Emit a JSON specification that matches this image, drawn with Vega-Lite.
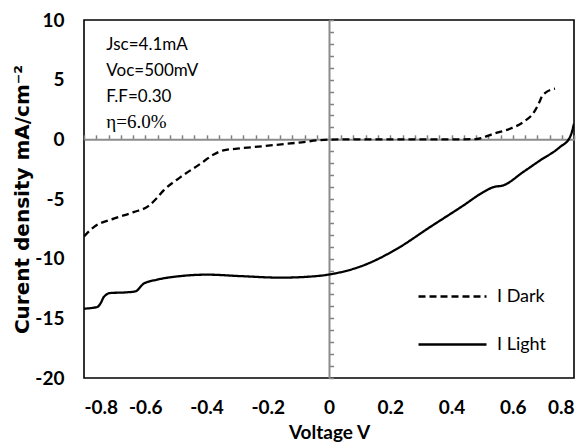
{
  "$schema": "https://vega.github.io/schema/vega-lite/v6.json",
  "width": 490,
  "height": 358,
  "autosize": "none",
  "padding": {"left": 84, "top": 20, "right": 13, "bottom": 70},
  "background": "white",
  "config": {
    "view": {"stroke": "#000", "strokeWidth": 1.6},
    "font": "Lato"
  },
  "datasets": {
    "curves": [
      {"series": "I Dark", "v": -0.8, "j": -8.13},
      {"series": "I Dark", "v": -0.768, "j": -7.35},
      {"series": "I Dark", "v": -0.703, "j": -6.65},
      {"series": "I Dark", "v": -0.638, "j": -6.1},
      {"series": "I Dark", "v": -0.59, "j": -5.6},
      {"series": "I Dark", "v": -0.565, "j": -5.0},
      {"series": "I Dark", "v": -0.54, "j": -4.28},
      {"series": "I Dark", "v": -0.485, "j": -3.17},
      {"series": "I Dark", "v": -0.42, "j": -2.05},
      {"series": "I Dark", "v": -0.375, "j": -1.25},
      {"series": "I Dark", "v": -0.345, "j": -0.92},
      {"series": "I Dark", "v": -0.3, "j": -0.78},
      {"series": "I Dark", "v": -0.214, "j": -0.57},
      {"series": "I Dark", "v": -0.105, "j": -0.29},
      {"series": "I Dark", "v": 0.0, "j": -0.02},
      {"series": "I Dark", "v": 0.1, "j": 0.0},
      {"series": "I Dark", "v": 0.2, "j": 0.0},
      {"series": "I Dark", "v": 0.3, "j": 0.0},
      {"series": "I Dark", "v": 0.4, "j": 0.0},
      {"series": "I Dark", "v": 0.48, "j": 0.02},
      {"series": "I Dark", "v": 0.537, "j": 0.47},
      {"series": "I Dark", "v": 0.591, "j": 0.89},
      {"series": "I Dark", "v": 0.634, "j": 1.44},
      {"series": "I Dark", "v": 0.673, "j": 2.42},
      {"series": "I Dark", "v": 0.687, "j": 3.12},
      {"series": "I Dark", "v": 0.695, "j": 3.6},
      {"series": "I Dark", "v": 0.705, "j": 3.87},
      {"series": "I Dark", "v": 0.738, "j": 4.24},
      {"series": "I Light", "v": -0.8, "j": -14.19},
      {"series": "I Light", "v": -0.757, "j": -14.05},
      {"series": "I Light", "v": -0.745, "j": -13.7},
      {"series": "I Light", "v": -0.735, "j": -13.2},
      {"series": "I Light", "v": -0.714, "j": -12.88},
      {"series": "I Light", "v": -0.66, "j": -12.82},
      {"series": "I Light", "v": -0.632, "j": -12.74},
      {"series": "I Light", "v": -0.605, "j": -12.09},
      {"series": "I Light", "v": -0.561, "j": -11.76},
      {"series": "I Light", "v": -0.485, "j": -11.46},
      {"series": "I Light", "v": -0.398, "j": -11.34},
      {"series": "I Light", "v": -0.29, "j": -11.46},
      {"series": "I Light", "v": -0.159, "j": -11.59},
      {"series": "I Light", "v": -0.05, "j": -11.48},
      {"series": "I Light", "v": 0.004, "j": -11.31},
      {"series": "I Light", "v": 0.113, "j": -10.56},
      {"series": "I Light", "v": 0.222, "j": -9.17},
      {"series": "I Light", "v": 0.33, "j": -7.35},
      {"series": "I Light", "v": 0.439, "j": -5.54},
      {"series": "I Light", "v": 0.504, "j": -4.42},
      {"series": "I Light", "v": 0.537, "j": -4.0},
      {"series": "I Light", "v": 0.569, "j": -3.86},
      {"series": "I Light", "v": 0.634, "j": -2.74},
      {"series": "I Light", "v": 0.689, "j": -1.77},
      {"series": "I Light", "v": 0.754, "j": -0.65},
      {"series": "I Light", "v": 0.787, "j": 0.19},
      {"series": "I Light", "v": 0.8, "j": 1.3}
    ],
    "notes": [
      {"label": "Jsc=4.1mA", "v": -0.727, "j": 7.45},
      {"label": "Voc=500mV", "v": -0.727, "j": 5.27},
      {"label": "F.F=0.30", "v": -0.727, "j": 3.12}
    ],
    "eta": [
      {"label": "η=6.0%", "v": -0.727, "j": 0.94}
    ]
  },
  "layer": [
    {
      "data": {"name": "curves"},
      "mark": {"type": "line", "interpolate": "monotone", "strokeWidth": 2.3, "color": "#000", "clip": true},
      "encoding": {
        "x": {
          "field": "v", "type": "quantitative",
          "scale": {"domain": [-0.8, 0.8], "nice": false, "zero": false},
          "axis": {
            "orient": "bottom", "title": "Voltage V", "values": [-0.8,-0.6,-0.4,-0.2,0,0.2,0.4,0.6,0.8],
            "labelExpr": "replace(format(datum.value, '~g'), '\u2212', '-')",
            "ticks": false, "domain": false, "grid": false, "labelPadding": 20,
            "labelFont": "Lato", "labelFontSize": 19, "labelFontWeight": "bold", "labelColor": "#000",
            "titleFont": "Lato", "titleFontSize": 19, "titleFontWeight": "bold", "titleColor": "#000", "titlePadding": 6
          }
        },
        "y": {
          "field": "j", "type": "quantitative",
          "scale": {"domain": [-20, 10], "nice": false, "zero": false},
          "axis": {
            "orient": "left", "title": "Curent density mA/cm⁻²", "values": [-20,-15,-10,-5,0,5,10],
            "labelExpr": "replace(format(datum.value, '~g'), '\u2212', '-')",
            "ticks": false, "domain": false, "grid": false, "labelPadding": 20,
            "labelFont": "Lato", "labelFontSize": 19, "labelFontWeight": "bold", "labelColor": "#000",
            "titleFont": "DejaVu Sans", "titleFontSize": 20, "titleFontWeight": "bold", "titleColor": "#000", "titlePadding": 2
          }
        },
        "strokeDash": {
          "field": "series", "type": "nominal",
          "scale": {"domain": ["I Dark", "I Light"], "range": [[7, 4], [1, 0]]},
          "legend": {
            "title": null, "orient": "none", "legendX": 333, "legendY": 241,
            "symbolType": "stroke", "symbolSize": 4624, "symbolStrokeWidth": 2.3, "symbolStrokeColor": "#000",
            "labelFont": "Lato", "labelFontSize": 18, "labelColor": "#000", "labelOffset": 9, "rowPadding": 3
          }
        }
      }
    },
    {
      "data": {"name": "eta"},
      "mark": {"type": "text", "align": "left", "baseline": "alphabetic", "font": "Liberation Serif", "fontSize": 19, "color": "#000"},
      "encoding": {
        "x": {"field": "v", "type": "quantitative", "axis": null},
        "y": {"field": "j", "type": "quantitative", "axis": null},
        "text": {"field": "label"}
      }
    },
    {
      "data": {"name": "notes"},
      "mark": {"type": "text", "align": "left", "baseline": "alphabetic", "font": "Lato", "fontSize": 17, "color": "#000"},
      "encoding": {
        "x": {
          "field": "v", "type": "quantitative",
          "axis": {
            "orient": "top", "offset": -119.33, "title": null, "labels": false, "grid": false,
            "values": [-0.8,-0.76,-0.72,-0.68,-0.64,-0.6,-0.56,-0.52,-0.48,-0.44,-0.4,-0.36,-0.32,-0.28,-0.24,-0.2,-0.16,-0.12,-0.08,-0.04,0,0.04,0.08,0.12,0.16,0.2,0.24,0.28,0.32,0.36,0.4,0.44,0.48,0.52,0.56,0.6,0.64,0.68,0.72,0.76,0.8],
            "domainColor": "#8c8c8c", "domainWidth": 2, "ticks": true, "tickColor": "#808080", "tickWidth": 1.5, "tickSize": 4.5
          }
        },
        "y": {
          "field": "j", "type": "quantitative",
          "axis": {
            "orient": "right", "offset": -245, "title": null, "labels": false, "grid": false,
            "values": [-20,-19,-18,-17,-16,-15,-14,-13,-12,-11,-10,-9,-8,-7,-6,-5,-4,-3,-2,-1,0,1,2,3,4,5,6,7,8,9,10],
            "domainColor": "#8c8c8c", "domainWidth": 2, "ticks": true, "tickColor": "#808080", "tickWidth": 1.5, "tickSize": 4.5
          }
        },
        "text": {"field": "label"}
      }
    }
  ],
  "resolve": {"axis": {"x": "independent", "y": "independent"}}
}
